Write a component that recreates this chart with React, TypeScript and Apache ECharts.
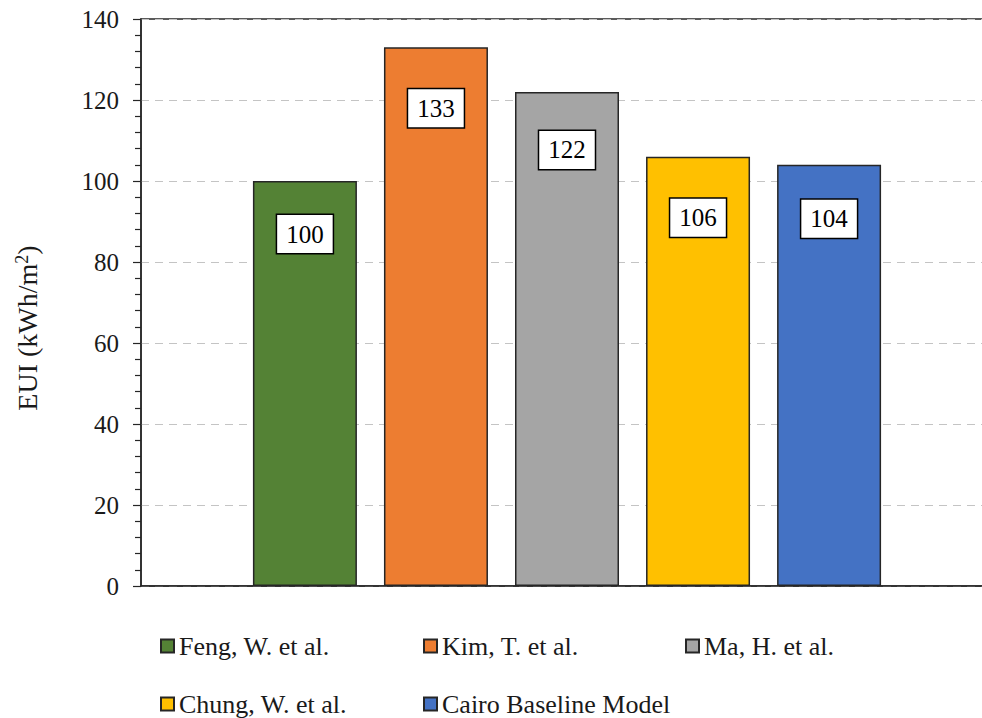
import React, { useEffect, useRef } from "react";
import * as echarts from "echarts";

// Energy use intensity reported by each study
const studies = ["Feng, W. et al.", "Kim, T. et al.", "Ma, H. et al.", "Chung, W. et al.", "Cairo Baseline Model"];
const euiValues = [100, 133, 122, 106, 104];
const barColors = ["#548235", "#ED7D31", "#A5A5A5", "#FFC000", "#4472C4"];
// distance of each value box below its bar's top
const labelGaps = [34, 42, 39, 42, 35];
// legend slots: [left, top]
const legendSlots: [number, number][] = [
  [160, 633],
  [423, 633],
  [685, 633],
  [160, 691],
  [423, 691],
];

const FONT = "Liberation Serif";

export default function App() {
  const ref = useRef<HTMLDivElement>(null);

  useEffect(() => {
    if (!ref.current) return;
    const chart = echarts.init(ref.current, undefined, { renderer: "svg" });

    const series = studies.map((name, i) => ({
      name,
      type: "bar" as const,
      data: [euiValues[i]],
      barWidth: 104,
      barGap: "26%",
      itemStyle: { color: barColors[i], borderColor: "#262626", borderWidth: 1.5 },
      label: {
        show: true,
        position: "insideTop" as const,
        distance: labelGaps[i],
        fontFamily: FONT,
        fontSize: 25,
        lineHeight: 26,
        color: "#000",
        backgroundColor: "#fff",
        borderColor: "#000",
        borderWidth: 1.5,
        padding: [6, 9],
      },
    }));

    const legends = studies.map((name, i) => ({
      data: [name],
      left: legendSlots[i][0],
      top: legendSlots[i][1],
      padding: 0,
      icon: "rect",
      itemWidth: 13,
      itemHeight: 13,
      itemGap: 0,
      selectedMode: false,
      textStyle: { fontFamily: FONT, fontSize: 26, color: "#1a1a1a" },
    }));

    chart.setOption({
      animation: false,
      backgroundColor: "#fff",
      textStyle: { fontFamily: FONT },
      grid: {
        left: 141,
        top: 19,
        bottom: 132,
        right: 7,
        show: true,
        borderColor: "#262626",
        borderWidth: 1.5,
        backgroundColor: "transparent",
      },
      legend: legends,
      xAxis: {
        type: "category",
        data: [""],
        axisLine: { lineStyle: { color: "#262626", width: 1.5 } },
        axisTick: { show: false },
        axisLabel: { show: false },
      },
      yAxis: {
        type: "value",
        min: 0,
        max: 140,
        interval: 20,
        axisLine: { show: true, lineStyle: { color: "#262626", width: 1.5 } },
        axisTick: { show: true, length: 8, lineStyle: { color: "#262626", width: 1.2 } },
        minorTick: { show: true, splitNumber: 5, length: 6, lineStyle: { color: "#262626", width: 1.2 } },
        splitLine: { show: true, lineStyle: { color: "#c4c4c4", width: 1, type: [8, 6] } },
        axisLabel: { fontFamily: FONT, fontSize: 25, color: "#1a1a1a", margin: 22 },
      },
      graphic: [
        {
          type: "text",
          x: 27,
          y: 328,
          rotation: Math.PI / 2,
          style: {
            text: "EUI (kWh/m{sup|2})",
            fontFamily: FONT,
            fontSize: 28,
            fill: "#1a1a1a",
            align: "center",
            verticalAlign: "middle",
            rich: {
              sup: { fontFamily: FONT, fontSize: 18, fill: "#1a1a1a", verticalAlign: "top", lineHeight: 28 },
            },
          },
        },
      ],
      series,
    });

    return () => chart.dispose();
  }, []);

  return (
    <div style={{ position: "fixed", left: 0, top: 0, width: 982, height: 718, overflow: "hidden", background: "#fff" }}>
      <div ref={ref} style={{ width: 1000, height: 718 }} />
    </div>
  );
}
